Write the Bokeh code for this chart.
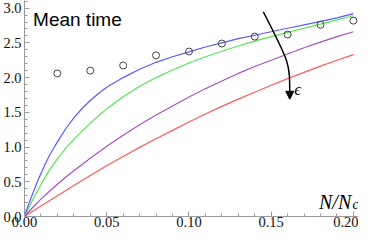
from bokeh.plotting import figure
from bokeh.models import (Range1d, SingleIntervalTicker, NumeralTickFormatter,
                          Label, Arrow, NormalHead)
from bokeh.embed import file_html
from bokeh.resources import INLINE

# ---- data ----
blue_x = [0, 0.002, 0.004, 0.006, 0.008, 0.010, 0.0125, 0.015, 0.0175, 0.02, 0.025,
          0.03, 0.035, 0.04, 0.045, 0.05, 0.06, 0.07, 0.08, 0.09, 0.10, 0.11, 0.12,
          0.13, 0.14, 0.15, 0.16, 0.17, 0.18, 0.19, 0.20]
blue_y = [0, 0.14, 0.27, 0.39, 0.51, 0.62, 0.75, 0.87, 0.975, 1.075, 1.26,
          1.42, 1.555, 1.67, 1.77, 1.86, 2.00, 2.12, 2.22, 2.30, 2.37, 2.44, 2.50,
          2.56, 2.61, 2.66, 2.71, 2.76, 2.81, 2.86, 2.92]

green_x = [0, 0.0025, 0.005, 0.0075, 0.010, 0.015, 0.020, 0.025, 0.030, 0.035, 0.040,
           0.045, 0.050, 0.060, 0.070, 0.080, 0.090, 0.100, 0.110, 0.120, 0.130,
           0.140, 0.150, 0.160, 0.170, 0.180, 0.190, 0.200]
green_y = [0, 0.12, 0.24, 0.35, 0.46, 0.66, 0.83, 0.98, 1.11, 1.23, 1.345,
           1.45, 1.55, 1.725, 1.875, 2.00, 2.11, 2.21, 2.30, 2.38, 2.455,
           2.525, 2.59, 2.65, 2.71, 2.77, 2.83, 2.89]

purple_x = [0, 0.005, 0.010, 0.015, 0.020, 0.025, 0.030, 0.035, 0.040, 0.050, 0.060,
            0.070, 0.080, 0.090, 0.100, 0.110, 0.120, 0.130, 0.140, 0.150, 0.160,
            0.170, 0.180, 0.190, 0.200]
purple_y = [0, 0.13, 0.25, 0.36, 0.465, 0.565, 0.66, 0.75, 0.84, 1.01, 1.17,
            1.32, 1.46, 1.59, 1.72, 1.84, 1.95, 2.06, 2.16, 2.25, 2.34,
            2.43, 2.51, 2.59, 2.66]

red_x = [0, 0.01, 0.02, 0.03, 0.04, 0.05, 0.06, 0.07, 0.08, 0.09, 0.10, 0.11, 0.12,
         0.13, 0.14, 0.15, 0.16, 0.17, 0.18, 0.19, 0.20]
red_y = [0, 0.15, 0.30, 0.445, 0.59, 0.73, 0.865, 0.995, 1.12, 1.24, 1.36, 1.475,
         1.585, 1.69, 1.79, 1.89, 1.985, 2.075, 2.165, 2.25, 2.33]

sim_x = [0.02, 0.04, 0.06, 0.08, 0.10, 0.12, 0.14, 0.16, 0.18, 0.20]
sim_y = [2.06, 2.10, 2.175, 2.32, 2.375, 2.49, 2.59, 2.62, 2.76, 2.82]

x_tick_interval = 0.05
y_tick_interval = 0.5
title_text = "Mean time"
xlabel_main = "N/N"
xlabel_sub = "c"
arrow_text = "\u03f5"

# ---- figure ----
p = figure(width=358, height=229,
           x_range=Range1d(0, 0.2031), y_range=Range1d(0, 3.11),
           output_backend="svg", toolbar_location=None,
           min_border_top=0, min_border_right=0, min_border_left=0, min_border_bottom=0)
p.outline_line_color = None
p.xgrid.grid_line_color = None
p.ygrid.grid_line_color = None
p.background_fill_color = "white"

axis_gray = "#9a9a9a"
for ax in (p.xaxis[0], p.yaxis[0]):
    ax.axis_line_color = axis_gray
    ax.major_tick_line_color = axis_gray
    ax.minor_tick_line_color = axis_gray
    ax.major_tick_in = 5
    ax.major_tick_out = 0
    ax.minor_tick_in = 3
    ax.minor_tick_out = 0
    ax.major_label_text_font = "Liberation Serif"
    ax.major_label_text_font_size = "14.5px"
    ax.major_label_text_color = "#111111"
    ax.major_label_text_line_height = 1.0

p.xaxis[0].ticker = SingleIntervalTicker(interval=x_tick_interval, num_minor_ticks=5)
p.xaxis[0].formatter = NumeralTickFormatter(format="0.00")
p.xaxis[0].major_label_standoff = 0
p.yaxis[0].ticker = SingleIntervalTicker(interval=y_tick_interval, num_minor_ticks=5)
p.yaxis[0].formatter = NumeralTickFormatter(format="0.0")
p.yaxis[0].major_label_standoff = 3

p.line(red_x, red_y, line_color="#ff5a5a", line_width=1.2)
p.line(purple_x, purple_y, line_color="#a552be", line_width=1.2)
p.line(green_x, green_y, line_color="#55e655", line_width=1.2)
p.line(blue_x, blue_y, line_color="#5a5aff", line_width=1.2)

p.scatter(sim_x, sim_y, marker="circle", size=7, fill_color=None,
          line_color="#444444", line_width=1)

# curved arrow
p.bezier(x0=[0.1452], y0=[2.948], x1=[0.1613], y1=[1.76],
         cx0=[0.1613], cy0=[2.21], cx1=[0.1613], cy1=[2.21],
         line_color="black", line_width=1.5)
p.add_layout(Arrow(end=NormalHead(size=8, fill_color="black", line_color="black"),
                   x_start=0.1613, y_start=1.77, x_end=0.1613, y_end=1.688,
                   line_color="black", line_width=1.5))

p.add_layout(Label(x=0.1640, y=1.83, text=arrow_text, text_font="Liberation Serif",
                   text_font_style="italic", text_font_size="17px",
                   text_baseline="middle", text_color="black"))

p.add_layout(Label(x=0.0052, y=2.84, text=title_text, text_font="Liberation Sans",
                   text_font_size="19px", text_baseline="alphabetic", text_color="black"))

p.add_layout(Label(x=0.1791, y=0.206, text=xlabel_main, text_font="Liberation Serif",
                   text_font_style="italic", text_font_size="20px",
                   text_baseline="alphabetic", text_color="black"))
p.add_layout(Label(x=0.1994, y=0.176, text=xlabel_sub, text_font="Liberation Serif",
                   text_font_style="italic", text_font_size="14px",
                   text_baseline="alphabetic", text_color="black"))

open("out.html", "w").write(file_html(p, INLINE))
